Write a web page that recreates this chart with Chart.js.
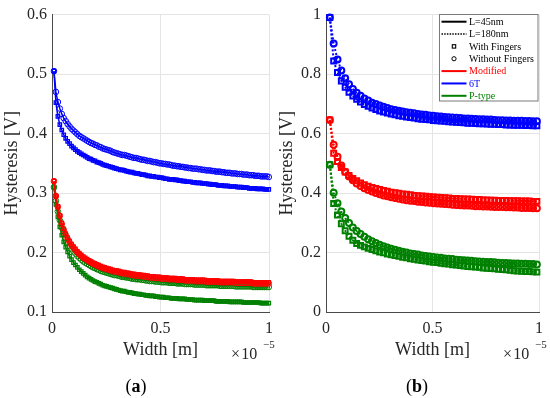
<!DOCTYPE html>
<html>
<head>
<meta charset="utf-8">
<script src="https://cdn.jsdelivr.net/npm/chart.js@4.4.1/dist/chart.umd.min.js"></script>
<style>
  body { margin: 0; background: #fff; }
  #wrap { position: relative; width: 550px; height: 398px; overflow: hidden; font-family: "Liberation Serif", "Times New Roman", serif; color: #262626; }
  canvas { position: absolute; top: 0; }
  #cvA { left: 0; }
  #cvB { left: 275px; }
  .txt { position: absolute; white-space: nowrap; line-height: 16px; }
  .base { font-size: 16px; }
  .pow { font-size: 11px; line-height: 11px; }
  .cap { position: absolute; width: 100px; text-align: center; font-size: 18px; line-height: 20px; color: #000; }
</style>
</head>
<body>
<div id="wrap">
  <canvas id="cvA" width="280" height="398"></canvas>
  <canvas id="cvB" width="275" height="398"></canvas>
  <div class="txt base" style="left:231px; top:346px;">×&#8202;10</div>
  <div class="txt pow" style="left:263px; top:339px;">−5</div>
  <div class="txt base" style="left:503px; top:346px;">×&#8202;10</div>
  <div class="txt pow" style="left:535px; top:339px;">−5</div>
  <div class="cap" style="left:86px; top:376px;">(<b>a</b>)</div>
  <div class="cap" style="left:367px; top:376px;">(<b>b</b>)</div>
</div>
<script>
// width axis in units of 1e-5 m
var widthA = [0.009,0.018,0.027,0.036,0.045,0.054,0.063,0.072,0.081,0.090,
  0.099,0.108,0.117,0.126,0.135,0.144,0.153,0.162,0.171,0.180,
  0.189,0.198,0.207,0.216,0.225,0.234,0.243,0.252,0.261,0.270,
  0.279,0.288,0.297,0.306,0.315,0.324,0.333,0.342,0.351,0.360,
  0.369,0.378,0.387,0.396,0.405,0.414,0.423,0.432,0.441,0.450,
  0.459,0.468,0.477,0.486,0.495,0.504,0.513,0.522,0.531,0.540,
  0.549,0.558,0.567,0.576,0.585,0.594,0.603,0.612,0.621,0.630,
  0.639,0.648,0.657,0.666,0.675,0.684,0.693,0.702,0.711,0.720,
  0.729,0.738,0.747,0.756,0.765,0.774,0.783,0.792,0.801,0.810,
  0.819,0.828,0.837,0.846,0.855,0.864,0.873,0.882,0.891,0.900,
  0.909,0.918,0.927,0.936,0.945,0.954,0.963,0.972,0.981,0.990,0.999];

var widthB = [0.018,0.036,0.054,0.072,0.090,0.108,0.126,0.144,0.162,0.180,
  0.198,0.216,0.234,0.252,0.270,0.288,0.306,0.324,0.342,0.360,
  0.378,0.396,0.414,0.432,0.450,0.468,0.486,0.504,0.522,0.540,
  0.558,0.576,0.594,0.612,0.630,0.648,0.666,0.684,0.702,0.720,
  0.738,0.756,0.774,0.792,0.810,0.828,0.846,0.864,0.882,0.900,
  0.918,0.936,0.954,0.972,0.990];

// (a) L=45nm
var sixTNoFingA = [0.505,0.470,0.453,0.442,0.433,0.426,0.421,0.416,0.412,0.408,
  0.405,0.402,0.399,0.396,0.394,0.392,0.390,0.388,0.386,0.384,
  0.383,0.381,0.380,0.378,0.377,0.375,0.374,0.373,0.372,0.371,
  0.369,0.368,0.367,0.366,0.365,0.364,0.364,0.363,0.362,0.361,
  0.360,0.359,0.359,0.358,0.357,0.356,0.356,0.355,0.354,0.354,
  0.353,0.352,0.352,0.351,0.350,0.350,0.349,0.349,0.348,0.348,
  0.347,0.346,0.346,0.345,0.345,0.344,0.344,0.343,0.343,0.342,
  0.342,0.341,0.341,0.341,0.340,0.340,0.339,0.339,0.338,0.338,
  0.338,0.337,0.337,0.336,0.336,0.336,0.335,0.335,0.334,0.334,
  0.334,0.333,0.333,0.333,0.332,0.332,0.332,0.331,0.331,0.331,
  0.330,0.330,0.330,0.329,0.329,0.329,0.328,0.328,0.328,0.328,0.327];

var sixTFingA = [0.505,0.452,0.429,0.415,0.406,0.398,0.392,0.387,0.383,0.379,
  0.376,0.373,0.370,0.368,0.366,0.364,0.362,0.360,0.358,0.357,
  0.355,0.354,0.352,0.351,0.350,0.348,0.347,0.346,0.345,0.344,
  0.343,0.342,0.341,0.340,0.339,0.339,0.338,0.337,0.336,0.335,
  0.335,0.334,0.333,0.333,0.332,0.331,0.331,0.330,0.329,0.329,
  0.328,0.328,0.327,0.327,0.326,0.326,0.325,0.324,0.324,0.323,
  0.323,0.323,0.322,0.322,0.321,0.321,0.320,0.320,0.319,0.319,
  0.319,0.318,0.318,0.317,0.317,0.317,0.316,0.316,0.316,0.315,
  0.315,0.314,0.314,0.314,0.313,0.313,0.313,0.312,0.312,0.312,
  0.311,0.311,0.311,0.311,0.310,0.310,0.310,0.309,0.309,0.309,
  0.308,0.308,0.308,0.308,0.307,0.307,0.307,0.307,0.306,0.306,0.306];

var modFingA = [0.320,0.295,0.277,0.262,0.250,0.240,0.232,0.225,0.219,0.214,
  0.210,0.206,0.202,0.199,0.196,0.193,0.191,0.189,0.187,0.185,
  0.183,0.182,0.180,0.179,0.177,0.176,0.175,0.174,0.173,0.172,
  0.171,0.170,0.170,0.169,0.168,0.167,0.167,0.166,0.166,0.165,
  0.164,0.164,0.163,0.163,0.163,0.162,0.162,0.161,0.161,0.160,
  0.160,0.160,0.159,0.159,0.159,0.158,0.158,0.158,0.158,0.157,
  0.157,0.157,0.157,0.156,0.156,0.156,0.156,0.155,0.155,0.155,
  0.155,0.155,0.154,0.154,0.154,0.154,0.154,0.154,0.153,0.153,
  0.153,0.153,0.153,0.153,0.153,0.152,0.152,0.152,0.152,0.152,
  0.152,0.152,0.152,0.151,0.151,0.151,0.151,0.151,0.151,0.151,
  0.151,0.151,0.150,0.150,0.150,0.150,0.150,0.150,0.150,0.150,0.150];

var modNoFingA = [0.320,0.295,0.277,0.262,0.248,0.238,0.230,0.223,0.217,0.212,
  0.208,0.204,0.200,0.197,0.194,0.191,0.189,0.187,0.185,0.183,
  0.181,0.180,0.178,0.177,0.175,0.174,0.173,0.172,0.171,0.170,
  0.169,0.168,0.168,0.167,0.166,0.165,0.165,0.164,0.164,0.163,
  0.162,0.162,0.161,0.161,0.161,0.160,0.160,0.159,0.159,0.158,
  0.158,0.158,0.157,0.157,0.157,0.156,0.156,0.156,0.156,0.155,
  0.155,0.155,0.155,0.154,0.154,0.154,0.154,0.153,0.153,0.153,
  0.153,0.153,0.152,0.152,0.152,0.152,0.152,0.152,0.151,0.151,
  0.151,0.151,0.151,0.151,0.151,0.150,0.150,0.150,0.150,0.150,
  0.150,0.150,0.150,0.149,0.149,0.149,0.149,0.149,0.149,0.149,
  0.149,0.149,0.148,0.148,0.148,0.148,0.148,0.148,0.148,0.148,0.148];

var pTypeNoFingA = [0.310,0.287,0.269,0.254,0.242,0.232,0.224,0.217,0.211,0.206,
  0.202,0.198,0.194,0.191,0.188,0.185,0.183,0.181,0.179,0.177,
  0.175,0.174,0.172,0.171,0.169,0.168,0.167,0.166,0.165,0.164,
  0.163,0.162,0.162,0.161,0.160,0.159,0.159,0.158,0.158,0.157,
  0.156,0.156,0.155,0.155,0.155,0.154,0.154,0.153,0.153,0.152,
  0.152,0.152,0.151,0.151,0.151,0.150,0.150,0.150,0.150,0.149,
  0.149,0.149,0.149,0.148,0.148,0.148,0.148,0.147,0.147,0.147,
  0.147,0.147,0.146,0.146,0.146,0.146,0.146,0.146,0.145,0.145,
  0.145,0.145,0.145,0.145,0.145,0.144,0.144,0.144,0.144,0.144,
  0.144,0.144,0.144,0.143,0.143,0.143,0.143,0.143,0.143,0.143,
  0.143,0.143,0.142,0.142,0.142,0.142,0.142,0.142,0.142,0.142,0.142];

var pTypeFingA = [0.309,0.281,0.260,0.243,0.229,0.218,0.209,0.201,0.194,0.188,
  0.183,0.179,0.175,0.171,0.168,0.165,0.162,0.159,0.157,0.155,
  0.153,0.151,0.150,0.148,0.147,0.145,0.144,0.143,0.142,0.141,
  0.140,0.139,0.138,0.137,0.136,0.135,0.135,0.134,0.133,0.133,
  0.132,0.131,0.131,0.130,0.130,0.129,0.129,0.128,0.128,0.127,
  0.127,0.127,0.126,0.126,0.125,0.125,0.125,0.124,0.124,0.124,
  0.123,0.123,0.123,0.123,0.122,0.122,0.122,0.122,0.121,0.121,
  0.121,0.121,0.120,0.120,0.120,0.120,0.120,0.119,0.119,0.119,
  0.119,0.119,0.119,0.118,0.118,0.118,0.118,0.118,0.118,0.118,
  0.117,0.117,0.117,0.117,0.117,0.117,0.117,0.116,0.116,0.116,
  0.116,0.116,0.116,0.116,0.116,0.116,0.115,0.115,0.115,0.115,0.115];

// (b) L=180nm
var sixTNoFingB = [0.990,0.903,0.849,0.812,0.786,0.766,0.750,0.737,0.727,0.718,
  0.711,0.704,0.699,0.694,0.690,0.686,0.682,0.679,0.677,0.674,
  0.672,0.670,0.668,0.666,0.664,0.663,0.661,0.660,0.658,0.657,
  0.656,0.655,0.654,0.653,0.652,0.651,0.651,0.650,0.649,0.648,
  0.648,0.647,0.647,0.646,0.645,0.645,0.644,0.644,0.643,0.643,
  0.643,0.642,0.642,0.641,0.641];

var sixTFingB = [0.990,0.844,0.805,0.777,0.756,0.739,0.726,0.715,0.706,0.698,
  0.692,0.686,0.681,0.676,0.672,0.669,0.666,0.663,0.660,0.658,
  0.656,0.654,0.652,0.650,0.648,0.647,0.646,0.644,0.643,0.642,
  0.641,0.640,0.639,0.638,0.637,0.636,0.635,0.635,0.634,0.633,
  0.633,0.632,0.631,0.631,0.630,0.630,0.629,0.629,0.628,0.628,
  0.628,0.627,0.627,0.626,0.626];

var modFingB = [0.646,0.534,0.506,0.486,0.471,0.459,0.449,0.441,0.434,0.428,
  0.423,0.419,0.415,0.412,0.409,0.406,0.403,0.401,0.399,0.397,
  0.396,0.394,0.392,0.391,0.390,0.389,0.388,0.387,0.386,0.385,
  0.384,0.383,0.382,0.382,0.381,0.380,0.380,0.379,0.378,0.378,
  0.377,0.377,0.376,0.376,0.375,0.375,0.375,0.374,0.374,0.374,
  0.373,0.373,0.373,0.372,0.372];

var modNoFingB = [0.646,0.562,0.522,0.493,0.472,0.456,0.443,0.432,0.424,0.416,
  0.410,0.405,0.400,0.396,0.392,0.389,0.386,0.383,0.381,0.378,
  0.376,0.374,0.373,0.371,0.370,0.368,0.367,0.366,0.365,0.364,
  0.363,0.362,0.361,0.360,0.359,0.358,0.358,0.357,0.356,0.356,
  0.355,0.355,0.354,0.353,0.353,0.353,0.352,0.352,0.351,0.351,
  0.350,0.350,0.350,0.349,0.349];

var pTypeNoFingB = [0.495,0.401,0.366,0.338,0.316,0.299,0.284,0.272,0.262,0.253,
  0.245,0.238,0.232,0.226,0.221,0.217,0.213,0.209,0.206,0.203,
  0.200,0.197,0.195,0.193,0.190,0.188,0.187,0.185,0.183,0.182,
  0.180,0.179,0.178,0.176,0.175,0.174,0.173,0.172,0.171,0.170,
  0.169,0.168,0.168,0.167,0.166,0.165,0.165,0.164,0.163,0.163,
  0.162,0.162,0.161,0.161,0.160];

var pTypeFingB = [0.495,0.365,0.326,0.297,0.273,0.255,0.241,0.230,0.224,0.219,
  0.214,0.210,0.206,0.202,0.199,0.195,0.192,0.190,0.187,0.184,
  0.182,0.179,0.177,0.175,0.173,0.171,0.169,0.167,0.166,0.164,
  0.162,0.161,0.159,0.158,0.156,0.155,0.153,0.152,0.151,0.150,
  0.148,0.147,0.146,0.145,0.144,0.143,0.142,0.140,0.139,0.138,
  0.137,0.136,0.136,0.135,0.134];

var xTicks = [0, 0.5, 1];
var xTickLabels = ['0', '0.5', '1'];
var yTicksA = [0.1, 0.2, 0.3, 0.4, 0.5, 0.6];
var yTickLabelsA = ['0.1', '0.2', '0.3', '0.4', '0.5', '0.6'];
var yTicksB = [0, 0.2, 0.4, 0.6, 0.8, 1];
var yTickLabelsB = ['0', '0.2', '0.4', '0.6', '0.8', '1'];

var legendEntries = [
  { text: 'L=45nm', kind: 'solid', color: '#000' },
  { text: 'L=180nm', kind: 'dotted', color: '#000' },
  { text: 'With Fingers', kind: 'rect', color: '#000' },
  { text: 'Without Fingers', kind: 'circle', color: '#000' },
  { text: 'Modified', kind: 'solid', color: '#ff0000' },
  { text: '6T', kind: 'solid', color: '#0000ff' },
  { text: 'P-type', kind: 'solid', color: '#008000' }
];

var BLUE = '#0000ff', RED = '#ff0000', GREEN = '#008000';
var FONT = '"Liberation Serif", "Times New Roman", serif';
var INK = '#262626';

function pts(xs, ys) {
  return xs.map(function(x, i) { return { x: x, y: ys[i] }; });
}

function seriesA(xs, ys, color, marker) {
  var sq = marker === 'rect';
  return {
    data: pts(xs, ys), borderColor: color, borderWidth: 1.5,
    pointStyle: marker, pointRadius: sq ? 2.4 : 2.8, pointBorderWidth: sq ? 1.3 : 1,
    pointBorderColor: color, pointBackgroundColor: 'rgba(0,0,0,0)',
    fill: false, tension: 0, clip: 10
  };
}

function seriesB(xs, ys, color, marker) {
  var sq = marker === 'rect';
  return {
    data: pts(xs, ys), borderColor: color, borderWidth: 2, borderDash: [2, 2],
    pointStyle: marker, pointRadius: sq ? 3.5 : 3, pointBorderWidth: 2,
    pointBorderColor: color, pointBackgroundColor: 'rgba(0,0,0,0)',
    fill: false, tension: 0, clip: 10
  };
}

function makeOptions(yMin, yMax, yTicks, yLabels, yWidth) {
  return {
    responsive: false,
    animation: false,
    layout: { padding: { left: 0, right: 7, top: 13, bottom: 0 } },
    plugins: { legend: { display: false }, tooltip: { enabled: false } },
    scales: {
      x: {
        type: 'linear', min: 0, max: 1,
        afterBuildTicks: function(s) { s.ticks = xTicks.map(function(v) { return { value: v }; }); },
        afterFit: function(s) { s.height = 86; },
        ticks: {
          autoSkip: false, maxRotation: 0, padding: 7, color: INK,
          font: { family: FONT, size: 16 },
          callback: function(v, i) { return xTickLabels[i]; }
        },
        grid: { color: '#e4e4e4', drawTicks: false },
        border: { color: '#4a4a4a', width: 1 },
        title: {
          display: true, text: 'Width [m]', color: INK,
          font: { family: FONT, size: 18 }, padding: { top: 0, bottom: 37 }
        }
      },
      y: {
        type: 'linear', min: yMin, max: yMax,
        afterBuildTicks: function(s) { s.ticks = yTicks.map(function(v) { return { value: v }; }); },
        afterFit: function(s) { s.width = yWidth; },
        ticks: {
          autoSkip: false, padding: 5, color: INK,
          font: { family: FONT, size: 16 },
          callback: function(v, i) { return yLabels[i]; }
        },
        grid: { color: '#e4e4e4', drawTicks: false },
        border: { color: '#4a4a4a', width: 1 },
        title: {
          display: true, text: 'Hysteresis [V]', color: INK,
          font: { family: FONT, size: 18 }, padding: { top: 1, bottom: 0 }
        }
      }
    }
  };
}

var legendPlugin = {
  id: 'boxLegend',
  afterDraw: function(chart) {
    var ctx = chart.ctx;
    var bx = 164.5, by = 14.5, bw = 98.5, bh = 86.5;
    ctx.save();
    ctx.fillStyle = '#ffffff';
    ctx.fillRect(bx, by, bw, bh);
    ctx.strokeStyle = '#7a7a7a';
    ctx.lineWidth = 1;
    ctx.strokeRect(bx, by, bw, bh);
    ctx.font = '10px ' + FONT;
    ctx.textBaseline = 'middle';
    ctx.textAlign = 'left';
    legendEntries.forEach(function(e, i) {
      var y = 21.7 + i * 12.35;
      ctx.strokeStyle = e.color;
      if (e.kind === 'solid' || e.kind === 'dotted') {
        ctx.lineWidth = e.kind === 'solid' ? 2 : 1.5;
        ctx.setLineDash(e.kind === 'dotted' ? [1.5, 1.2] : []);
        ctx.beginPath();
        ctx.moveTo(166.5, y);
        ctx.lineTo(191.5, y);
        ctx.stroke();
        ctx.setLineDash([]);
      } else if (e.kind === 'rect') {
        ctx.lineWidth = 1.1;
        ctx.strokeRect(177.3, y - 1.7, 3.4, 3.4);
      } else {
        ctx.lineWidth = 1;
        ctx.beginPath();
        ctx.arc(179, y, 2.1, 0, Math.PI * 2);
        ctx.stroke();
      }
      ctx.fillStyle = e.color;
      ctx.fillText(e.text, 194, y + 0.5);
    });
    ctx.restore();
  }
};

new Chart(document.getElementById('cvA'), {
  type: 'line',
  data: {
    datasets: [
      seriesA(widthA, sixTNoFingA, BLUE, 'circle'),
      seriesA(widthA, sixTFingA, BLUE, 'rect'),
      seriesA(widthA, modNoFingA, RED, 'circle'),
      seriesA(widthA, modFingA, RED, 'rect'),
      seriesA(widthA, pTypeNoFingA, GREEN, 'circle'),
      seriesA(widthA, pTypeFingA, GREEN, 'rect')
    ]
  },
  options: makeOptions(0.1, 0.6, yTicksA, yTickLabelsA, 52)
});

new Chart(document.getElementById('cvB'), {
  type: 'line',
  data: {
    datasets: [
      seriesB(widthB, sixTNoFingB, BLUE, 'circle'),
      seriesB(widthB, sixTFingB, BLUE, 'rect'),
      seriesB(widthB, modNoFingB, RED, 'circle'),
      seriesB(widthB, modFingB, RED, 'rect'),
      seriesB(widthB, pTypeNoFingB, GREEN, 'circle'),
      seriesB(widthB, pTypeFingB, GREEN, 'rect')
    ]
  },
  options: makeOptions(0, 1, yTicksB, yTickLabelsB, 51),
  plugins: [legendPlugin]
});
</script>
</body>
</html>
